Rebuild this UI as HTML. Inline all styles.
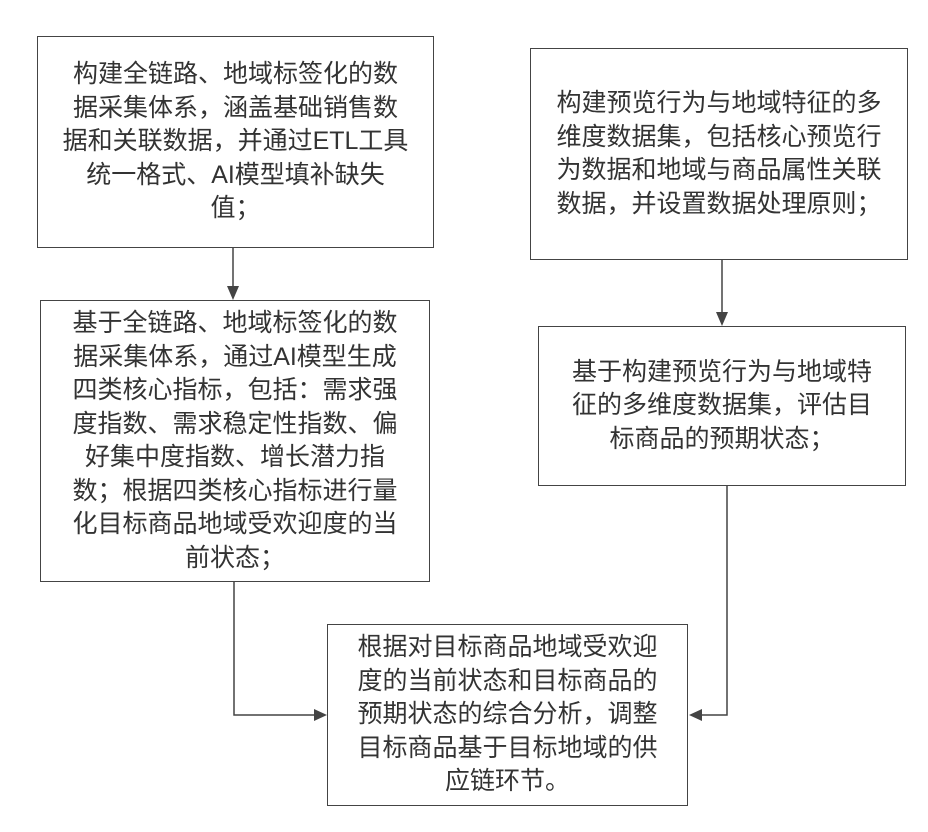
<!DOCTYPE html>
<html><head><meta charset="utf-8"><style>
body{margin:0;width:928px;height:832px;background:#fff;position:relative;overflow:hidden;font-family:"Liberation Sans","Noto Sans CJK SC",sans-serif;}
.b{position:absolute;border:1.5px solid #444;box-sizing:border-box;display:flex;align-items:center;justify-content:center;text-align:center;color:#333;font-size:25px;line-height:33.5px;}
.b div{width:100%;}
svg{position:absolute;left:0;top:0;}
</style></head><body>
<svg width="928" height="832">
<g stroke="#444" stroke-width="1.5" fill="none">
<line x1="233" y1="248" x2="233" y2="292"/>
<line x1="722" y1="260" x2="722" y2="318"/>
<polyline points="234,582 234,715 318,715"/>
<polyline points="727,486 727,715 698,715"/>
</g>
<g fill="#444">
<polygon points="227,286 239,286 233,300"/>
<polygon points="716,312 728,312 722,326"/>
<polygon points="314,709 314,721 327,715"/>
<polygon points="702,709 702,721 689,715"/>
</g>
</svg>
<div class="b" style="left:37px;top:36px;width:397px;height:212px;"><div style="padding:0 24px">构建全链路、地域标签化的数据采集体系，涵盖基础销售数据和关联数据，并通过ETL工具统一格式、AI模型填补缺失值；</div></div>
<div class="b" style="left:40px;top:300px;width:390px;height:282px;"><div style="padding:0 22px">基于全链路、地域标签化的数据采集体系，通过AI模型生成四类核心指标，包括：需求强度指数、需求稳定性指数、偏好集中度指数、增长潜力指数；根据四类核心指标进行量化目标商品地域受欢迎度的当前状态；</div></div>
<div class="b" style="left:530px;top:48px;width:378px;height:212px;"><div style="padding:0 22px">构建预览行为与地域特征的多维度数据集，包括核心预览行为数据和地域与商品属性关联数据，并设置数据处理原则；</div></div>
<div class="b" style="left:538px;top:326px;width:368px;height:160px;"><div style="padding:0 22px">基于构建预览行为与地域特征的多维度数据集，评估目标商品的预期状态；</div></div>
<div class="b" style="left:327px;top:624px;width:361px;height:182px;"><div style="padding:0 18px">根据对目标商品地域受欢迎度的当前状态和目标商品的预期状态的综合分析，调整目标商品基于目标地域的供应链环节。</div></div>
</body></html>
